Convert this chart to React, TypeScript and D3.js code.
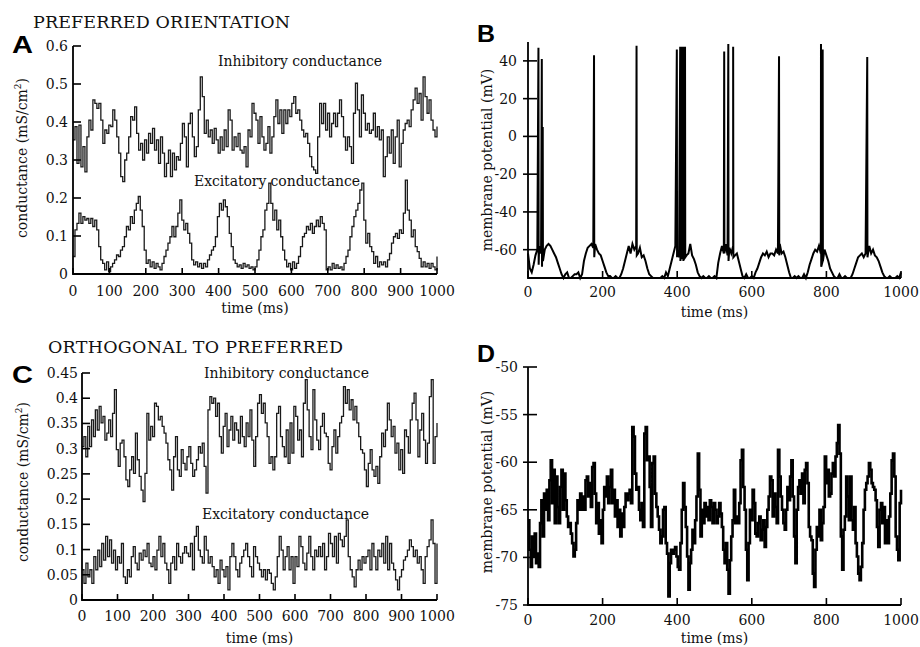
import React from 'react';
import * as d3 from 'd3';

// ---------- DATA ----------
// Panel A: preferred orientation, conductances (mS/cm^2), evenly sampled over 0..1000 ms
const aInhibitory = [0.353,0.388,0.291,0.392,0.282,0.335,0.269,0.361,0.405,0.379,0.458,0.449,0.436,0.449,0.405,0.344,0.379,0.370,0.392,0.388,0.432,0.405,0.361,0.318,0.256,0.243,0.300,0.318,0.361,0.414,0.405,0.440,0.370,0.326,0.344,0.300,0.353,0.318,0.370,0.344,0.383,0.326,0.353,0.291,0.361,0.318,0.256,0.291,0.326,0.256,0.318,0.274,0.309,0.300,0.344,0.396,0.361,0.282,0.396,0.423,0.361,0.309,0.335,0.432,0.519,0.467,0.370,0.405,0.361,0.379,0.344,0.383,0.353,0.318,0.361,0.326,0.379,0.335,0.432,0.405,0.326,0.361,0.335,0.370,0.326,0.318,0.335,0.282,0.379,0.361,0.449,0.423,0.405,0.344,0.414,0.361,0.326,0.344,0.388,0.318,0.361,0.414,0.458,0.396,0.432,0.370,0.432,0.396,0.432,0.414,0.449,0.467,0.423,0.432,0.405,0.379,0.361,0.370,0.344,0.309,0.282,0.274,0.265,0.361,0.449,0.396,0.449,0.379,0.423,0.361,0.396,0.423,0.388,0.423,0.458,0.414,0.361,0.326,0.361,0.335,0.291,0.423,0.502,0.432,0.361,0.471,0.423,0.379,0.396,0.370,0.379,0.423,0.361,0.388,0.353,0.379,0.256,0.309,0.361,0.318,0.379,0.291,0.361,0.405,0.282,0.344,0.379,0.396,0.405,0.388,0.432,0.458,0.489,0.449,0.475,0.405,0.519,0.467,0.423,0.458,0.405,0.379,0.361,0.388];
const aExcitatory = [0.046,0.116,0.133,0.160,0.133,0.151,0.142,0.146,0.133,0.146,0.125,0.142,0.116,0.072,0.037,0.028,0.011,0.032,0.006,0.019,0.028,0.037,0.050,0.046,0.063,0.072,0.098,0.125,0.116,0.151,0.133,0.168,0.186,0.204,0.168,0.125,0.063,0.028,0.037,0.019,0.032,0.015,0.028,0.019,0.011,0.028,0.046,0.063,0.081,0.098,0.125,0.098,0.125,0.160,0.195,0.142,0.116,0.133,0.107,0.081,0.037,0.024,0.032,0.019,0.028,0.015,0.028,0.019,0.037,0.050,0.063,0.072,0.098,0.151,0.186,0.168,0.195,0.177,0.151,0.107,0.072,0.037,0.028,0.019,0.024,0.015,0.028,0.019,0.024,0.015,0.019,0.011,0.019,0.037,0.063,0.098,0.116,0.168,0.186,0.239,0.186,0.142,0.168,0.116,0.142,0.098,0.063,0.037,0.019,0.028,0.011,0.032,0.015,0.028,0.046,0.072,0.098,0.107,0.125,0.116,0.133,0.107,0.125,0.142,0.125,0.151,0.133,0.116,0.011,0.019,0.011,0.028,0.015,0.024,0.015,0.019,0.011,0.028,0.046,0.063,0.098,0.125,0.151,0.168,0.186,0.221,0.239,0.142,0.081,0.107,0.072,0.059,0.028,0.046,0.019,0.032,0.024,0.032,0.019,0.037,0.054,0.081,0.098,0.107,0.094,0.116,0.107,0.160,0.247,0.168,0.142,0.098,0.116,0.072,0.059,0.041,0.019,0.032,0.019,0.028,0.015,0.028,0.019,0.011,0.046];

// Panel C: orthogonal orientation, conductances (mS/cm^2), evenly sampled over 0..1000 ms
const cInhibitory = [0.304,0.324,0.284,0.344,0.304,0.357,0.324,0.377,0.337,0.384,0.351,0.364,0.317,0.331,0.357,0.324,0.370,0.417,0.298,0.265,0.311,0.317,0.284,0.238,0.225,0.258,0.284,0.251,0.331,0.278,0.245,0.218,0.195,0.251,0.370,0.317,0.344,0.324,0.390,0.384,0.357,0.364,0.344,0.331,0.311,0.278,0.258,0.218,0.284,0.324,0.258,0.245,0.298,0.271,0.258,0.284,0.304,0.271,0.245,0.258,0.278,0.304,0.291,0.311,0.265,0.212,0.377,0.403,0.390,0.400,0.364,0.390,0.324,0.291,0.344,0.370,0.304,0.337,0.364,0.317,0.351,0.337,0.311,0.364,0.324,0.304,0.351,0.324,0.377,0.317,0.265,0.324,0.390,0.407,0.370,0.390,0.351,0.324,0.271,0.284,0.258,0.284,0.370,0.384,0.324,0.304,0.284,0.337,0.271,0.351,0.291,0.384,0.364,0.317,0.337,0.284,0.390,0.437,0.377,0.324,0.298,0.417,0.357,0.317,0.298,0.344,0.370,0.331,0.324,0.271,0.258,0.304,0.337,0.291,0.324,0.351,0.364,0.423,0.390,0.417,0.377,0.397,0.357,0.384,0.351,0.324,0.298,0.291,0.258,0.225,0.271,0.298,0.258,0.245,0.265,0.231,0.284,0.331,0.304,0.337,0.390,0.357,0.324,0.344,0.291,0.311,0.258,0.298,0.251,0.337,0.324,0.291,0.357,0.390,0.410,0.357,0.284,0.337,0.370,0.317,0.271,0.311,0.403,0.437,0.271,0.324,0.351];
const cExcitatory = [0.060,0.033,0.073,0.046,0.060,0.033,0.086,0.060,0.099,0.066,0.112,0.079,0.126,0.086,0.119,0.073,0.099,0.060,0.086,0.073,0.112,0.046,0.033,0.060,0.046,0.086,0.106,0.073,0.060,0.093,0.079,0.099,0.086,0.112,0.073,0.066,0.086,0.060,0.099,0.126,0.086,0.112,0.073,0.060,0.033,0.073,0.086,0.060,0.112,0.086,0.073,0.093,0.106,0.093,0.086,0.112,0.060,0.126,0.146,0.099,0.086,0.073,0.126,0.099,0.073,0.086,0.066,0.046,0.060,0.033,0.079,0.060,0.046,0.066,0.020,0.086,0.112,0.086,0.060,0.046,0.073,0.086,0.099,0.112,0.086,0.066,0.046,0.106,0.086,0.073,0.060,0.046,0.060,0.040,0.060,0.053,0.033,0.020,0.046,0.086,0.126,0.099,0.060,0.086,0.106,0.060,0.086,0.033,0.086,0.066,0.126,0.106,0.073,0.060,0.093,0.126,0.086,0.060,0.099,0.086,0.106,0.086,0.112,0.060,0.086,0.132,0.112,0.086,0.126,0.073,0.132,0.119,0.106,0.126,0.159,0.086,0.060,0.046,0.026,0.060,0.079,0.060,0.086,0.073,0.086,0.099,0.060,0.112,0.086,0.060,0.099,0.086,0.112,0.073,0.126,0.060,0.112,0.073,0.060,0.040,0.020,0.046,0.060,0.079,0.086,0.099,0.119,0.106,0.086,0.099,0.073,0.086,0.060,0.033,0.086,0.106,0.119,0.159,0.112,0.033,0.112];

// Panel B: membrane potential (mV), subthreshold samples every 5 ms, plus spikes
const bStepMs = 5;
const bSubthreshold = [
  -62,-70,-72,-68,-63,-60,-58,-62,-61,-60,
  -58,-57,-58,-60,-62,-64,-67,-70,-73,-75,
  -73,-72,-75,-75,-74,-73,-73,-72,-75,-73,
  -66,-62,-59,-58,-57,-59,-57,-60,-62,-63,
  -66,-69,-72,-74,-74,-75,-75,-74,-75,-75,
  -73,-70,-66,-62,-58,-62,-57,-60,-58,-62,
  -59,-64,-63,-66,-70,-73,-74,-75,-75,-75,
  -75,-75,-74,-75,-72,-74,-70,-66,-62,-58,
  -60,-64,-57,-62,-58,-63,-62,-57,-63,-65,
  -68,-72,-74,-75,-74,-75,-75,-74,-75,-75,
  -74,-75,-67,-62,-58,-62,-57,-63,-59,-62,
  -58,-63,-62,-66,-70,-74,-75,-73,-75,-75,
  -74,-75,-72,-70,-67,-64,-62,-63,-61,-64,
  -62,-62,-63,-60,-62,-57,-62,-61,-64,-68,
  -72,-75,-75,-74,-75,-74,-75,-75,-73,-75,
  -72,-68,-65,-62,-60,-61,-58,-62,-66,-60,
  -63,-66,-70,-72,-74,-75,-75,-73,-75,-75,
  -74,-75,-75,-75,-73,-70,-67,-64,-63,-62,
  -64,-62,-61,-58,-62,-60,-63,-64,-66,-69,
  -72,-74,-75,-75,-74,-75,-75,-75,-74,-75,
  -72
];
const bSpikeTimes   = [28, 37, 39.5, 177, 291, 399, 408, 412, 416, 421, 526, 537, 550, 673, 785.5, 790, 909.5];
const bSpikePeaks   = [47, 41, 5, 43, 48, 46, 47.5, 47.5, 47.5, 47.5, 45, 49, 47.5, 42.5, 49, 46, 42];
const bSpikeTroughs = [-68, -69, -66, -64, -63, -64, -66, -65, -66, -64, -62, -66, -64, -63, -69, -66, -64];

// Panel D: membrane potential (mV), evenly sampled over 0..1000 ms
const dPotential = [
  -66.1,-69.2,-71.0,-67.8,-69.9,-67.5,-70.6,-69.6,-71.0,-66.4,
  -64.0,-67.8,-63.3,-65.0,-62.9,-66.1,-61.9,-59.8,-64.3,-60.8,
  -66.4,-61.5,-64.7,-66.4,-62.6,-60.8,-65.0,-61.2,-64.0,-65.7,
  -66.8,-66.4,-67.5,-68.5,-69.9,-69.2,-66.4,-64.0,-65.0,-63.3,
  -65.0,-63.6,-65.0,-61.9,-61.5,-63.6,-62.2,-64.7,-60.5,-60.1,
  -63.3,-66.4,-64.3,-67.5,-66.1,-68.5,-65.0,-62.6,-63.6,-61.5,
  -64.3,-62.6,-60.8,-64.3,-62.9,-65.7,-64.0,-66.8,-65.0,-67.8,
  -65.4,-66.8,-64.7,-63.3,-64.0,-63.3,-62.9,-64.3,-56.3,-57.3,
  -61.2,-62.9,-62.6,-65.0,-66.1,-64.3,-66.8,-57.0,-56.3,-59.8,
  -59.4,-62.6,-66.8,-60.1,-59.4,-63.3,-64.7,-65.7,-67.1,-68.5,
  -67.8,-65.0,-64.7,-68.5,-69.6,-74.1,-70.6,-69.2,-69.6,-69.2,
  -68.9,-69.9,-71.0,-71.3,-68.5,-65.0,-62.2,-64.7,-66.8,-69.9,
  -73.4,-70.6,-69.2,-67.1,-68.5,-66.1,-63.6,-59.1,-62.9,-67.8,
  -65.0,-66.4,-64.3,-65.7,-64.7,-66.1,-64.0,-64.7,-66.4,-64.3,
  -65.0,-66.4,-65.7,-64.3,-65.4,-66.8,-69.2,-70.6,-68.5,-71.3,
  -73.8,-70.3,-67.8,-66.1,-62.9,-66.4,-65.7,-66.4,-64.3,-59.8,
  -58.7,-62.6,-65.0,-69.2,-72.4,-68.5,-65.0,-66.1,-62.9,-64.3,
  -67.5,-67.8,-66.4,-65.7,-68.2,-67.1,-66.1,-68.9,-66.8,-65.0,
  -63.6,-61.5,-61.9,-65.7,-63.3,-64.7,-66.4,-58.7,-61.5,-63.6,
  -65.0,-66.4,-67.1,-65.0,-62.6,-64.0,-61.5,-59.8,-63.6,-67.8,
  -70.6,-65.0,-62.6,-61.9,-63.3,-61.2,-64.3,-60.8,-60.1,-62.2,
  -66.8,-67.8,-68.2,-71.7,-73.1,-69.2,-66.8,-67.8,-65.0,-68.2,
  -66.4,-64.7,-59.4,-62.2,-60.8,-63.6,-63.3,-61.2,-60.1,-61.5,
  -59.4,-58.0,-56.1,-59.1,-67.8,-71.3,-67.1,-65.7,-61.5,-63.6,
  -66.1,-61.5,-66.1,-67.1,-64.7,-68.5,-69.9,-71.7,-72.4,-71.0,
  -68.5,-65.0,-62.9,-62.2,-61.5,-60.1,-60.8,-62.2,-62.6,-62.9,
  -64.0,-66.8,-68.9,-65.0,-64.3,-66.4,-64.7,-68.5,-66.1,-68.5,
  -65.7,-63.3,-59.8,-59.1,-61.5,-67.8,-69.2,-70.3,-64.3,-62.9
];

// Ticks
const timeTicks100 = [0, 100, 200, 300, 400, 500, 600, 700, 800, 900, 1000];
const timeTicks200 = [0, 200, 400, 600, 800, 1000];
const aCondTicks = [0, 0.1, 0.2, 0.3, 0.4, 0.5, 0.6];
const aCondLabels = ['0', '0.1', '0.2', '0.3', '0.4', '0.5', '0.6'];
const cCondTicks = [0, 0.05, 0.1, 0.15, 0.2, 0.25, 0.3, 0.35, 0.4, 0.45];
const cCondLabels = ['0', '0.05', '0.1', '0.15', '0.2', '0.25', '0.3', '0.35', '0.4', '0.45'];
const bVoltTicks = [-60, -40, -20, 0, 20, 40];
const dVoltTicks = [-75, -70, -65, -60, -55, -50];

// ---------- helpers ----------
type Pt = [number, number];
const TIME_SPAN = 1000;
function evenly(values: number[]): Pt[] {
  const dt = TIME_SPAN / (values.length - 1);
  return values.map((v, i) => [i * dt, v] as Pt);
}
function withSpikes(): Pt[] {
  const pts: Pt[] = bSubthreshold.map((v, i) => [i * bStepMs, v] as Pt);
  bSpikeTimes.forEach((t, i) => {
    pts.push([t, bSpikePeaks[i]]);
    pts.push([t + 0.6, bSpikeTroughs[i]]);
  });
  return pts.sort((a, b) => a[0] - b[0]);
}

const SERIF = "'DejaVu Serif', 'Liberation Serif', serif";
const SANS = "'Liberation Sans', Arial, sans-serif";

type Series = { data: Pt[]; width: number; color: string; step?: boolean };
type PanelProps = {
  xRange: [number, number];
  yRange: [number, number];
  yDomain: [number, number];
  xTicks: number[];
  yTicks: number[];
  yLabels: string[];
  yTickOut: number;
  yTickIn: number;
  yLabelGap: number;
  xTickIn: number;
  xLabelY: number;
  xTitleY: number;
  yTitleX: number;
  yTitleY: number;
  yTitle: 'cond' | 'volt';
  series: Series[];
};

function Panel(p: PanelProps) {
  const xs = d3.scaleLinear().domain([0, TIME_SPAN]).range(p.xRange);
  const ys = d3.scaleLinear().domain(p.yDomain).range(p.yRange);
  const ax = p.xRange[0];
  const right = p.xRange[1];
  const bottom = p.yRange[0];
  const top = p.yRange[1];
  return (
    <g>
      {p.series.map((s, i) => {
        const line = d3
          .line<Pt>()
          .x(d => xs(d[0]))
          .y(d => ys(d[1]))
          .curve(s.step ? d3.curveStepAfter : d3.curveLinear);
        return (
          <path key={i} d={line(s.data) || ''} fill="none" stroke={s.color} strokeWidth={s.width} strokeLinejoin="miter" />
        );
      })}
      <path d={`M${ax},${top}V${bottom}H${right}`} fill="none" stroke="#000" strokeWidth={1.8} />
      {p.yTicks.map((v, i) => (
        <g key={'y' + i}>
          <line x1={ax - p.yTickOut} x2={ax + p.yTickIn} y1={ys(v)} y2={ys(v)} stroke="#000" strokeWidth={1.6} />
          <text x={ax - p.yLabelGap} y={ys(v)} dy="0.36em" textAnchor="end" fontFamily={SERIF} fontSize={14} fill="#111">
            {p.yLabels[i]}
          </text>
        </g>
      ))}
      {p.xTicks.map((t, i) => (
        <g key={'x' + i}>
          <line x1={xs(t)} x2={xs(t)} y1={bottom} y2={bottom - p.xTickIn} stroke="#000" strokeWidth={1.6} />
          <text x={xs(t)} y={p.xLabelY} textAnchor="middle" fontFamily={SERIF} fontSize={14} fill="#111">
            {String(t)}
          </text>
        </g>
      ))}
      <text x={(ax + right) / 2} y={p.xTitleY} textAnchor="middle" fontFamily={SERIF} fontSize={14} fill="#111">
        time (ms)
      </text>
      <text
        transform={`translate(${p.yTitleX},${p.yTitleY}) rotate(-90)`}
        textAnchor="middle"
        fontFamily={SERIF}
        fontSize={14}
        fill="#111"
      >
        {p.yTitle === 'cond' ? (
          <>
            conductance (mS/cm<tspan fontSize={9} dy={-6}>2</tspan>
            <tspan dy={6}>)</tspan>
          </>
        ) : (
          'membrane potential (mV)'
        )}
      </text>
    </g>
  );
}

export default function App() {
  const traceColor = '#1a1a1a';
  const bSeries = withSpikes();
  return (
    <svg
      width={920}
      height={647}
      viewBox="0 0 920 647"
      style={{ position: 'absolute', left: 0, top: 0, background: '#fff' }}
    >
      <rect x={0} y={0} width={920} height={647} fill="#fff" />

      {/* Panel A */}
      <Panel
        xRange={[73, 437]}
        yRange={[274, 46]}
        yDomain={[0, 0.6]}
        xTicks={timeTicks100}
        yTicks={aCondTicks}
        yLabels={aCondLabels}
        yTickOut={0}
        yTickIn={8}
        yLabelGap={5}
        xTickIn={6}
        xLabelY={296}
        xTitleY={313}
        yTitleX={27}
        yTitleY={158}
        yTitle="cond"
        series={[
          { data: evenly(aInhibitory), width: 1.3, color: traceColor, step: true },
          { data: evenly(aExcitatory), width: 1.3, color: traceColor, step: true },
        ]}
      />
      {/* Panel B */}
      <Panel
        xRange={[528, 901]}
        yRange={[278, 42]}
        yDomain={[-75, 50]}
        xTicks={timeTicks200}
        yTicks={bVoltTicks}
        yLabels={bVoltTicks.map(String)}
        yTickOut={5}
        yTickIn={9}
        yLabelGap={11}
        xTickIn={7}
        xLabelY={297}
        xTitleY={317}
        yTitleX={492}
        yTitleY={160}
        yTitle="volt"
        series={[{ data: bSeries, width: 2, color: '#000' }]}
      />
      {/* Panel C */}
      <Panel
        xRange={[82, 437]}
        yRange={[600, 373]}
        yDomain={[0, 0.45]}
        xTicks={timeTicks100}
        yTicks={cCondTicks}
        yLabels={cCondLabels}
        yTickOut={0}
        yTickIn={8}
        yLabelGap={4}
        xTickIn={6}
        xLabelY={621}
        xTitleY={643}
        yTitleX={28}
        yTitleY={482}
        yTitle="cond"
        series={[
          { data: evenly(cInhibitory), width: 1.3, color: traceColor, step: true },
          { data: evenly(cExcitatory), width: 1.3, color: traceColor, step: true },
        ]}
      />
      {/* Panel D */}
      <Panel
        xRange={[528, 901]}
        yRange={[605, 367]}
        yDomain={[-75, -50]}
        xTicks={timeTicks200}
        yTicks={dVoltTicks}
        yLabels={dVoltTicks.map(String)}
        yTickOut={5}
        yTickIn={9}
        yLabelGap={10}
        xTickIn={7}
        xLabelY={625}
        xTitleY={643}
        yTitleX={492}
        yTitleY={482}
        yTitle="volt"
        series={[{ data: evenly(dPotential), width: 2.6, color: '#000', step: true }]}
      />

      {/* Titles and annotations */}
      <text x={33} y={28} fontFamily={SERIF} fontSize={17.5} textLength={257} fill="#111">PREFERRED ORIENTATION</text>
      <text x={48} y={353} fontFamily={SERIF} fontSize={17.5} textLength={295} fill="#111">ORTHOGONAL TO PREFERRED</text>

      <text x={218} y={66} fontFamily={SERIF} fontSize={14} textLength={164} fill="#111">Inhibitory conductance</text>
      <text x={194} y={186} fontFamily={SERIF} fontSize={14} textLength={166} fill="#111">Excitatory conductance</text>
      <text x={204} y={378} fontFamily={SERIF} fontSize={14} textLength={165} fill="#111">Inhibitory conductance</text>
      <text x={202} y={519} fontFamily={SERIF} fontSize={14} textLength={167} fill="#111">Excitatory conductance</text>

      <text x={12} y={53} fontFamily={SANS} fontWeight="bold" fontSize={23} textLength={21} lengthAdjust="spacingAndGlyphs">A</text>
      <text x={477} y={42} fontFamily={SANS} fontWeight="bold" fontSize={23} textLength={18} lengthAdjust="spacingAndGlyphs">B</text>
      <text x={12} y={383} fontFamily={SANS} fontWeight="bold" fontSize={23} textLength={21} lengthAdjust="spacingAndGlyphs">C</text>
      <text x={477} y={362} fontFamily={SANS} fontWeight="bold" fontSize={23} textLength={18} lengthAdjust="spacingAndGlyphs">D</text>
    </svg>
  );
}
